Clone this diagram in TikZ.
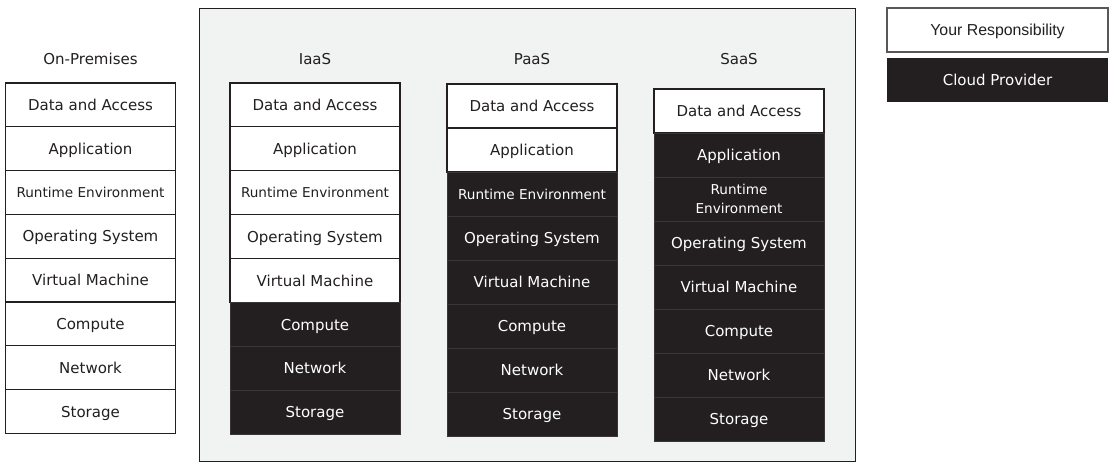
\documentclass[tikz,border=0pt]{standalone}
\usepackage{fontspec}
\setmainfont{DejaVu Sans}
\newfontfamily\arialf{Liberation Sans}
\definecolor{dk}{HTML}{231F20}
\definecolor{bg}{HTML}{F1F2F2}
\definecolor{sep}{HTML}{3A3637}
\tikzset{
  rowbase/.style={rectangle, minimum width=127.5pt, minimum height=33pt, inner sep=0pt, align=center,
    text height=10.8pt, text depth=2.4pt,
    font=\fontsize{11.25}{13.5}\selectfont},
  wbox/.style={rowbase, draw=dk, line width=0.9pt, fill=white, text=dk},
  dbox/.style={rowbase, draw=sep, line width=0.4pt, fill=dk, text=white},
  small/.style={font=\fontsize{10.2}{14.25}\selectfont, text height=9.8pt, text depth=2.2pt},
  twoline/.style={text height=, text depth=},
  colhead/.style={text=dk, font=\fontsize{11.25}{13.5}\selectfont},
}
\newcommand{\mystack}[5]{% prefix, xcenter, ytop, nwhite, rowheight
  \foreach \t [count=\i] in {Data and Access, Application, RUNTIME, Operating System, Virtual Machine, Compute, Network, Storage}{
    \edef\sty{\ifnum\i>#4 dbox\else wbox\fi}
    \pgfmathsetmacro{\yc}{#3+(\i-0.5)*#5}
    \def\RT{RUNTIME}
    \ifx\t\RT
      \node[\sty, small] (#1\i) at (#2,\yc) {Runtime Environment};
    \else
      \node[\sty] (#1\i) at (#2,\yc) {\t};
    \fi
  }
}
\begin{document}
\begin{tikzpicture}[x=0.75pt,y=-0.75pt]
\useasboundingbox (0,0) rectangle (1109,462);
% background panel
\node[draw=dk, line width=0.6pt, fill=bg, minimum width=492pt, minimum height=339.75pt, inner sep=0pt] (panel) at (527,234.5) {};
% headers
\node[colhead] (hop) at (90.5,59) {On-Premises};
\node[colhead] (hia) at (315,59) {IaaS};
\node[colhead] (hpa) at (532,59) {PaaS};
\node[colhead] (hsa) at (739,59) {SaaS};
% stacks
\mystack{op}{90.5}{83}{8}{43.8}
\mystack{ia}{315}{83}{5}{43.9}
\mystack{pa}{532}{84}{2}{44}
% SaaS stack
\foreach \t [count=\i] in {Data and Access, Application, RUNTIME, Operating System, Virtual Machine, Compute, Network, Storage}{
  \edef\sty{\ifnum\i>1 dbox\else wbox\fi}
  \pgfmathsetmacro{\yc}{89+(\i-0.5)*44}
  \def\RT{RUNTIME}
  \ifx\t\RT
    \node[\sty, font=\fontsize{10.2}{14.25}\selectfont, twoline] (sa\i) at (739,\yc) {Runtime\\Environment};
  \else
    \node[\sty] (sa\i) at (739,\yc) {\t};
  \fi
}
% legend
\node[rowbase, draw=dk!75, line width=0.9pt, fill=white, text=dk, minimum width=165.75pt, font=\arialf\fontsize{11.9}{14}\selectfont] (lyou) at (997.5,30) {Your Responsibility};
\node[rowbase, fill=dk, text=white, minimum width=165.75pt] (lcloud) at (997.5,80) {Cloud Provider};
\end{tikzpicture}
\end{document}
